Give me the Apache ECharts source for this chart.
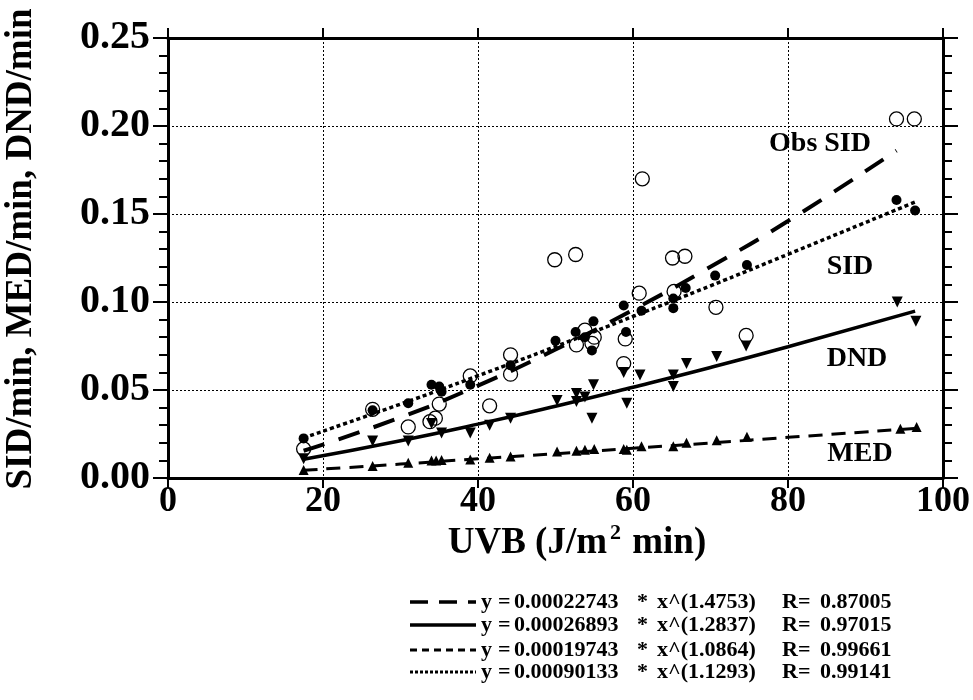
<!DOCTYPE html>
<html lang="en">
<head>
<meta charset="utf-8">
<title>UVB vs SID / MED / DND</title>
<script src="https://cdn.jsdelivr.net/npm/echarts@6.0.0/dist/echarts.min.js"></script>
<style type="text/css">
	html, body { margin: 0; padding: 0; background: #fff; }
	#chart { width: 973px; height: 700px; }
</style>
</head>
<body>
<div id="chart"></div>
<script type="text/javascript">
// observed SID (open circles)
var obsX = [17.5, 26.4, 31.0, 33.8, 34.5, 35.0, 39.0, 41.5, 44.2, 44.2, 49.9, 52.6, 52.7, 53.8, 54.7, 55.0, 58.8, 59.0, 60.8, 61.2, 65.1, 65.3, 66.7, 70.7, 74.6, 94.0, 96.3];
var obsY = [0.0165, 0.039, 0.029, 0.032, 0.034, 0.042, 0.058, 0.041, 0.070, 0.059, 0.124, 0.127, 0.0756, 0.084, 0.0765, 0.080, 0.065, 0.079, 0.105, 0.170, 0.125, 0.106, 0.126, 0.097, 0.081, 0.204, 0.204];
// SID (filled circles)
var sidX = [17.5, 26.4, 31.0, 34.0, 35.0, 35.3, 39.0, 44.2, 50.0, 52.6, 53.8, 54.9, 54.7, 58.8, 59.1, 61.1, 65.2, 65.2, 66.8, 70.6, 74.7, 94.0, 96.4];
var sidY = [0.0225, 0.0385, 0.0425, 0.053, 0.052, 0.049, 0.053, 0.064, 0.078, 0.083, 0.080, 0.089, 0.0725, 0.098, 0.083, 0.095, 0.102, 0.0965, 0.108, 0.115, 0.121, 0.158, 0.152];
// DND (down triangles)
var dndX = [17.5, 26.4, 31.0, 34.0, 35.3, 39.0, 41.5, 44.2, 50.2, 52.7, 52.7, 53.8, 54.9, 54.7, 58.8, 59.2, 60.9, 65.2, 65.2, 66.9, 70.8, 74.6, 94.1, 96.5];
var dndY = [0.011, 0.021, 0.021, 0.031, 0.0255, 0.0255, 0.030, 0.034, 0.044, 0.048, 0.0435, 0.046, 0.053, 0.034, 0.060, 0.0425, 0.0585, 0.0585, 0.052, 0.065, 0.069, 0.075, 0.100, 0.089];
// MED (up triangles)
var medX = [17.5, 26.4, 31.0, 34.0, 34.6, 35.3, 39.0, 41.5, 44.2, 50.2, 52.7, 53.8, 55.0, 58.8, 59.2, 61.1, 65.2, 66.9, 70.8, 74.7, 94.5, 96.6];
var medY = [0.0045, 0.0068, 0.0087, 0.010, 0.010, 0.0102, 0.0105, 0.0115, 0.0122, 0.015, 0.0155, 0.016, 0.0165, 0.0165, 0.016, 0.018, 0.018, 0.020, 0.0215, 0.0235, 0.028, 0.029];

// fitted curves
var fitObsX = [17.5, 30, 40, 50, 60, 70, 80, 94];
var fitObsY = [0.0155, 0.0344, 0.0525, 0.0730, 0.0955, 0.120, 0.146, 0.186];
var fitX = [17.5, 30, 40, 50, 60, 70, 80, 96.4];
var fitDndY = [0.0106, 0.0212, 0.0306, 0.0408, 0.0516, 0.0628, 0.0746, 0.0948];
var fitMedY = [0.0044, 0.0079, 0.0109, 0.0138, 0.0169, 0.0199, 0.0231, 0.0282];
var fitSidY = [0.0228, 0.0420, 0.0581, 0.0747, 0.0918, 0.1092, 0.1271, 0.1568];

// equation legend
var eqCoef = ['0.00022743', '0.00026893', '0.00019743', '0.00090133'];
var eqExp = ['1.4753', '1.2837', '1.0864', '1.1293'];
var eqR = ['0.87005', '0.97015', '0.99661', '0.99141'];

var serif = '"Liberation Serif", "Times New Roman", serif';

function zip(xs, ys) {
	var out = [];
	for (var i = 0; i < xs.length; i++) {
		out.push([xs[i], ys[i]]);
	}
	return out;
}

var myChart = echarts.init(document.getElementById('chart'), null, {renderer: 'canvas'});

var axisLineStyle = {color: '#000', width: 3};
var gridDots = {color: '#000', width: 1, type: [2, 2]};

// legend rows: line styles
var legendDash = [[18, 11], null, [7, 5], [3, 2]];
var legendWidth = [3.5, 3.5, 3, 3];
var rowY = [602, 625, 650, 672];

var graphics = [
	{type: 'text', x: 21, y: 249, rotation: Math.PI / 2,
		style: {text: 'SID/min, MED/min, DND/min', font: 'bold 37px ' + serif, fill: '#000',
			align: 'center', verticalAlign: 'middle'}},
	{type: 'text', x: 577, y: 543,
		style: {text: 'UVB (J/m{sup|2} min)', font: 'bold 37px ' + serif, fill: '#000',
			align: 'center', verticalAlign: 'middle',
			rich: {sup: {font: 'bold 22px ' + serif, verticalAlign: 'top', padding: [0, 2, 20, 3]}}}},
	{type: 'text', x: 820, y: 144, style: {text: 'Obs SID', font: 'bold 28px ' + serif, fill: '#000', align: 'center', verticalAlign: 'middle'}},
	{type: 'text', x: 850, y: 267, style: {text: 'SID', font: 'bold 28px ' + serif, fill: '#000', align: 'center', verticalAlign: 'middle'}},
	{type: 'text', x: 857, y: 359, style: {text: 'DND', font: 'bold 28px ' + serif, fill: '#000', align: 'center', verticalAlign: 'middle'}},
	{type: 'text', x: 860, y: 454, style: {text: 'MED', font: 'bold 28px ' + serif, fill: '#000', align: 'center', verticalAlign: 'middle'}}
];

for (var i = 0; i < 4; i++) {
	var yy = rowY[i];
	graphics.push({type: 'line', shape: {x1: 410, y1: yy, x2: 476, y2: yy},
		style: {stroke: '#000', lineWidth: legendWidth[i], lineDash: legendDash[i]}});
	var font = 'bold 22px ' + serif;
	var parts = [[481, 'y'], [498, '='], [514, eqCoef[i]], [637, '*'], [657, 'x^(' + eqExp[i] + ')'], [782, 'R='], [820, eqR[i]]];
	for (var j = 0; j < parts.length; j++) {
		graphics.push({type: 'text', x: parts[j][0], y: yy,
			style: {text: parts[j][1], font: font, fill: '#000', align: 'left', verticalAlign: 'middle'}});
	}
}

var option = {
	backgroundColor: '#fff',
	animation: false,
	grid: {left: 168, right: 30, top: 38, bottom: 222, containLabel: false},
	xAxis: [
		{
			type: 'value', min: 0, max: 100, interval: 20, position: 'bottom',
			axisLine: {show: true, onZero: false, lineStyle: axisLineStyle},
			axisTick: {show: true, inside: false, length: 10, lineStyle: {color: '#000', width: 2}},
			axisLabel: {color: '#000', fontFamily: serif, fontWeight: 'bold', fontSize: 36, margin: 6},
			splitLine: {show: true, lineStyle: gridDots}
		},
		{
			type: 'value', min: 0, max: 100, interval: 20, position: 'top',
			axisLine: {show: true, onZero: false, lineStyle: axisLineStyle},
			axisTick: {show: true, inside: false, length: 10, lineStyle: {color: '#000', width: 2}},
			axisLabel: {show: false},
			splitLine: {show: false}
		}
	],
	yAxis: [
		{
			type: 'value', min: 0, max: 0.25, interval: 0.05, position: 'left',
			axisLine: {show: true, onZero: false, lineStyle: axisLineStyle},
			axisTick: {show: true, inside: false, length: 15, lineStyle: {color: '#000', width: 2}},
			minorTick: {show: true, splitNumber: 5, length: 9, lineStyle: {color: '#000', width: 2}},
			axisLabel: {color: '#000', fontFamily: serif, fontWeight: 'bold', fontSize: 40, margin: 18,
				formatter: function (v) { return v.toFixed(2); }},
			splitLine: {show: true, lineStyle: gridDots}
		},
		{
			type: 'value', min: 0, max: 0.25, interval: 0.05, position: 'right',
			axisLine: {show: true, onZero: false, lineStyle: axisLineStyle},
			axisTick: {show: true, inside: false, length: 15, lineStyle: {color: '#000', width: 2}},
			minorTick: {show: true, splitNumber: 5, length: 9, lineStyle: {color: '#000', width: 2}},
			axisLabel: {show: false},
			splitLine: {show: false}
		}
	],
	series: [
		{name: 'Obs SID fit', type: 'line', smooth: true, showSymbol: false, data: zip(fitObsX, fitObsY),
			lineStyle: {color: '#000', width: 4, type: [22, 15]}, z: 3},
		{name: 'DND fit', type: 'line', smooth: true, showSymbol: false, data: zip(fitX, fitDndY),
			lineStyle: {color: '#000', width: 3.5, type: 'solid'}, z: 3},
		{name: 'MED fit', type: 'line', smooth: true, showSymbol: false, data: zip(fitX, fitMedY),
			lineStyle: {color: '#000', width: 3, type: [14, 9]}, z: 3},
		{name: 'SID fit', type: 'line', smooth: true, showSymbol: false, data: zip(fitX, fitSidY),
			lineStyle: {color: '#000', width: 3.5, type: [4, 3]}, z: 3},
		{name: 'Obs SID', type: 'scatter', symbol: 'circle', symbolSize: 14, data: zip(obsX, obsY),
			itemStyle: {color: 'rgba(255,255,255,0)', borderColor: '#000', borderWidth: 1.3, opacity: 1}, z: 4},
		{name: 'SID', type: 'scatter', symbol: 'circle', symbolSize: 10, data: zip(sidX, sidY),
			itemStyle: {color: '#000', opacity: 1}, z: 5},
		{name: 'DND', type: 'scatter', symbol: 'triangle', symbolRotate: 180, symbolSize: 11, data: zip(dndX, dndY),
			itemStyle: {color: '#000', opacity: 1}, z: 5},
		{name: 'MED', type: 'scatter', symbol: 'triangle', symbolSize: 10, data: zip(medX, medY),
			itemStyle: {color: '#000', opacity: 1}, z: 5}
	],
	graphic: graphics
};

myChart.setOption(option);
</script>
</body>
</html>
